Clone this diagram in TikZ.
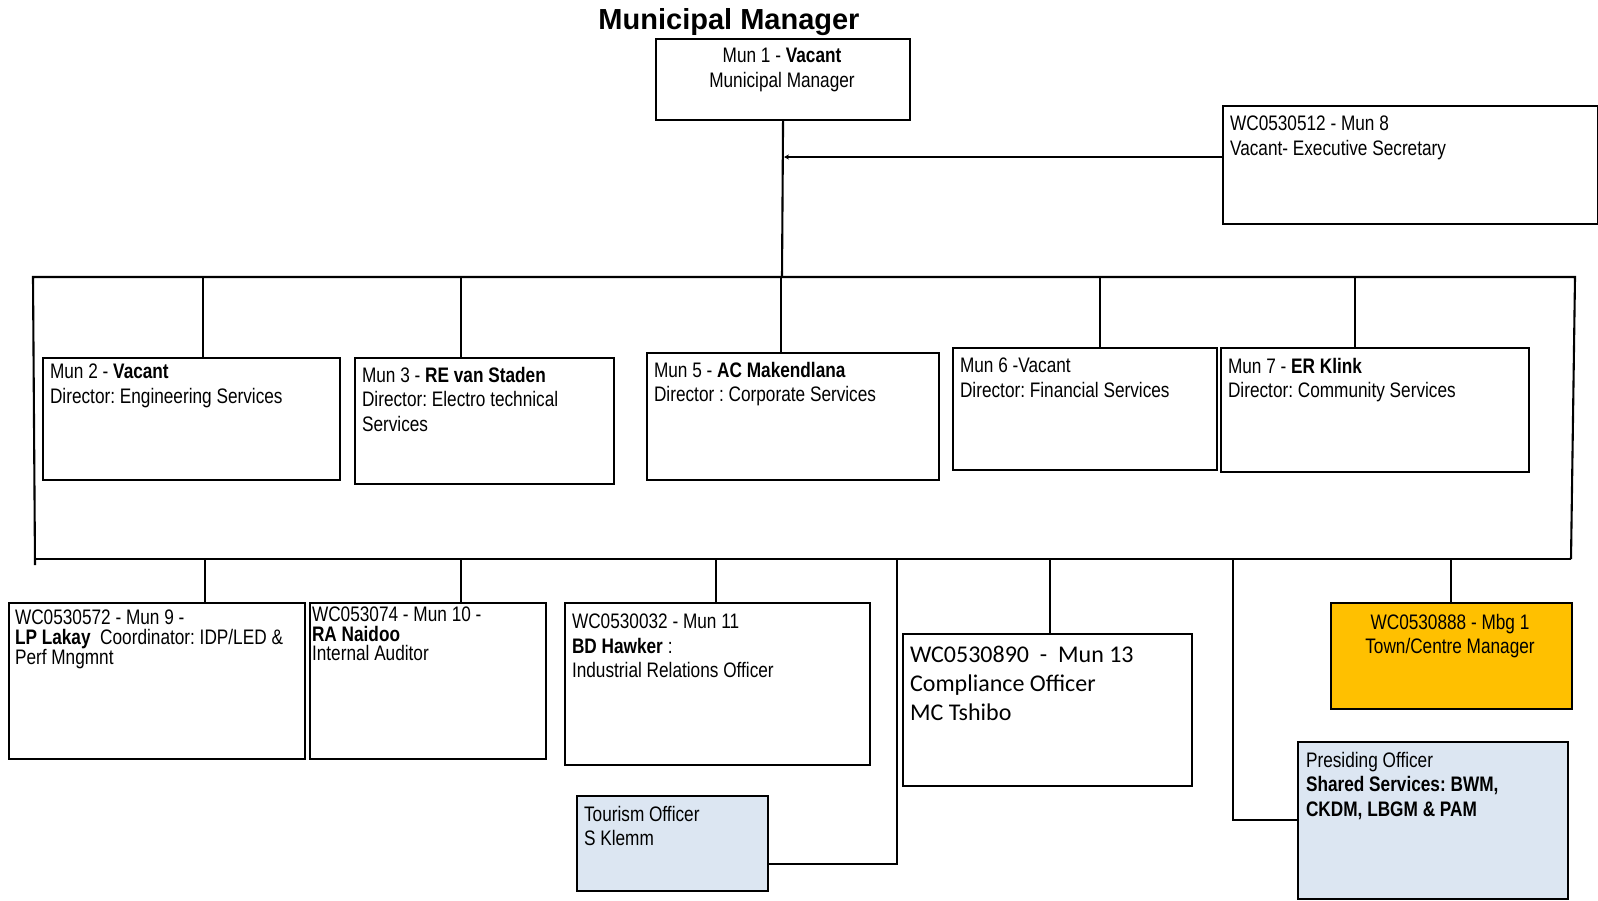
\documentclass[tikz,border=0pt]{standalone}
\usepackage{fontspec}
\setmainfont{Liberation Sans}
\newfontfamily\narrow[FakeStretch=0.82]{Liberation Sans}
\newfontfamily\calib{Carlito}
\usetikzlibrary{arrows.meta,calc}
\definecolor{orangebox}{HTML}{FFC000}
\definecolor{bluebox}{HTML}{DCE6F2}
\frenchspacing
\begin{document}
\begin{tikzpicture}[x=1pt,y=-1pt,
  line width=2.1pt,
  box/.style={draw=black, line width=2.1pt, inner sep=0pt, anchor=north west, fill=white},
  txt/.style={anchor=north west, inner sep=0pt, align=left, font=\narrow\fontsize{21}{24.5}\selectfont},
  tighttxt/.style={txt, font=\narrow\fontsize{21}{19.4}\selectfont},
  caltxt/.style={anchor=north west, inner sep=0pt, align=left, font=\calib\fontsize{24}{29}\selectfont},
  conn/.style={draw=black, line width=2.1pt},
  arr/.style={conn, -{Stealth[length=5pt,width=5pt]}}
]
\fill[white] (0,0) rectangle (1598,900);
\useasboundingbox (0,0) rectangle (1598,900);

% title
\node[anchor=base, inner sep=0pt, font=\bfseries\fontsize{29}{34}\selectfont] (title) at (729,29) {Municipal Manager};

% boxes
\node[box, minimum width=254pt, minimum height=81pt] (m1) at (655,38) {};
\node[box, minimum width=375pt, minimum height=118pt] (m8) at (1222,105) {};
\node[box, minimum width=297pt, minimum height=122pt] (m2) at (42,357) {};
\node[box, minimum width=259pt, minimum height=126pt] (m3) at (354,357) {};
\node[box, minimum width=292pt, minimum height=127pt] (m5) at (646,352) {};
\node[box, minimum width=264pt, minimum height=122pt] (m6) at (952,347) {};
\node[box, minimum width=308pt, minimum height=124pt] (m7) at (1220,347) {};
\node[box, minimum width=296pt, minimum height=156pt] (m9) at (8,602) {};
\node[box, minimum width=236pt, minimum height=156pt] (m10) at (309,602) {};
\node[box, minimum width=305pt, minimum height=162pt] (m11) at (564,602) {};
\node[box, minimum width=289pt, minimum height=152pt] (m13) at (902,633) {};
\node[box, fill=orangebox, minimum width=241pt, minimum height=106pt] (mbg) at (1330,602) {};
\node[box, fill=bluebox, minimum width=191pt, minimum height=95pt] (tour) at (576,795) {};
\node[box, fill=bluebox, minimum width=270pt, minimum height=157pt] (pres) at (1297,741) {};

% texts
\node[txt, anchor=north, align=center] (m1t) at (782,47) {Mun 1 - \textbf{Vacant}\\Municipal Manager};
\node[txt] (m8t) at (1229,115) {WC0530512 - Mun 8\\Vacant- Executive Secretary};
\node[txt] (m2t) at (49,363) {Mun 2 - \textbf{Vacant}\\Director: Engineering Services};
\node[txt] (m3t) at (361,366) {Mun 3 - \textbf{RE van Staden}\\Director: Electro technical\\Services};
\node[txt] (m5t) at (653,361) {Mun 5 - \textbf{AC Makendlana}\\Director : Corporate Services};
\node[txt] (m6t) at (959,357) {Mun 6 -Vacant\\Director: Financial Services};
\node[txt] (m7t) at (1227,357) {Mun 7 - \textbf{ER Klink}\\Director: Community Services};
\node[tighttxt] (m9t) at (14,609) {WC0530572 - Mun 9 -\\\textbf{LP Lakay}\ \ Coordinator: IDP/LED \&\\Perf Mngmnt};
\node[tighttxt] (m10t) at (311,606) {WC053074 - Mun 10 -\\\textbf{RA Naidoo}\\Internal Auditor};
\node[txt] (m11t) at (571,613) {WC0530032 - Mun 11\\\textbf{BD Hawker} :\\Industrial Relations Officer};
\node[caltxt] (m13t) at (909,645) {WC0530890\ \ -\ \ Mun 13\\Compliance Officer\\MC Tshibo};
\node[txt, anchor=north, align=center] (mbgt) at (1450,613) {WC0530888 - Mbg 1\\Town/Centre Manager};
\node[txt] (tourt) at (583,805) {Tourism Officer\\S Klemm};
\node[txt] (prest) at (1305,751) {Presiding Officer\\\textbf{Shared Services: BWM,}\\\textbf{CKDM, LBGM \& PAM}};

% bus coordinates
\coordinate (tj) at (782,277);
\coordinate (tl) at (33,277);
\coordinate (tr) at (1575,277);
\coordinate (bl) at (35,559);
\coordinate (br) at (1571,559);
\coordinate (blx) at (35,565);
\coordinate (a8) at (784,157);

% main connectors
\draw[conn] (m1.south) -- (tj);
\draw[arr] (m8.west |- a8) -- (a8);
\draw[conn] (blx) -- (tl) -- (tr) -- (br);
\draw[conn] (bl) -- (br);

% drops to directors
\coordinate (d2) at (203,277);
\coordinate (d3) at (461,277);
\coordinate (d5) at (781,277);
\coordinate (d6) at (1100,277);
\coordinate (d7) at (1355,277);
\draw[conn] (d2) -- (d2 |- m2.north);
\draw[conn] (d3) -- (d3 |- m3.north);
\draw[conn] (d5) -- (d5 |- m5.north);
\draw[conn] (d6) -- (d6 |- m6.north);
\draw[conn] (d7) -- (d7 |- m7.north);

% drops to bottom row
\coordinate (e9) at (205,559);
\coordinate (e10) at (461,559);
\coordinate (e11) at (716,559);
\coordinate (e13) at (1050,559);
\coordinate (ebg) at (1451,559);
\draw[conn] (e9) -- (e9 |- m9.north);
\draw[conn] (e10) -- (e10 |- m10.north);
\draw[conn] (e11) -- (e11 |- m11.north);
\draw[conn] (e13) -- (e13 |- m13.north);
\draw[conn] (ebg) -- (ebg |- mbg.north);

% tourism and presiding officer
\coordinate (tv) at (897,559);
\coordinate (tc) at (897,864);
\draw[conn] (tv) -- (tc) -- (tc -| tour.east);
\coordinate (pv) at (1233,559);
\coordinate (pc) at (1233,820);
\draw[conn] (pv) -- (pc) -- (pc -| pres.west);
\end{tikzpicture}
\end{document}
